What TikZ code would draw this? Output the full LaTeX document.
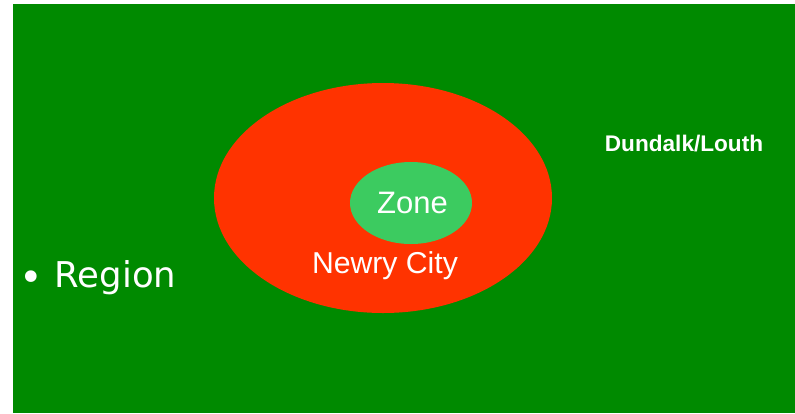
\documentclass[tikz,border=0pt]{standalone}
\usepackage{fontspec}
\setmainfont{Liberation Sans}
\newfontfamily\dejavu{DejaVu Sans}
\definecolor{bggreen}{HTML}{008A00}
\definecolor{cityred}{HTML}{FF3300}
\definecolor{zonegreen}{HTML}{3CCB60}
\begin{document}
\begin{tikzpicture}[x=1pt,y=-1pt,
  lbl/.style={text=white,inner sep=0pt,anchor=base}]
\useasboundingbox (0,0) rectangle (795,413);
\fill[bggreen] (13,4) rectangle (795,413);
\fill[cityred] (383,198) ellipse [x radius=169,y radius=115];
\fill[zonegreen] (411,203) ellipse [x radius=61,y radius=41];
\node[lbl,font=\fontsize{31}{36}\selectfont] (zone) at (412.5,213.5) {Zone};
\node[lbl,font=\fontsize{30.2}{36}\selectfont] (city) at (385,273) {Newry City};
\node[lbl,font=\bfseries\fontsize{22.6}{27}\selectfont] (county) at (684,151) {Dundalk/Louth};
\node[lbl,font=\dejavu\fontsize{40}{46}\selectfont] (bullet) at (31,291) {•};
\node[lbl,anchor=base west,font=\dejavu\fontsize{35.5}{42}\selectfont] (region) at (54.5,287) {Region};
\end{tikzpicture}
\end{document}
